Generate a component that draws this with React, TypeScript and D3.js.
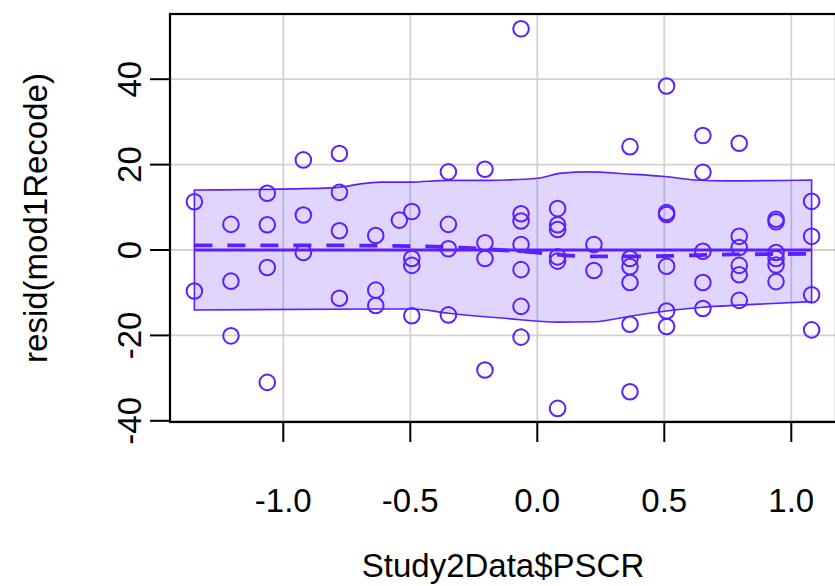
import React from "react";
import * as d3 from "d3";

// ---- data ----
const pscr: number[] = [
  -1.35, -1.35,
  -1.206, -1.206, -1.206,
  -1.063, -1.063, -1.063, -1.063,
  -0.921, -0.921, -0.921,
  -0.779, -0.779, -0.779, -0.779,
  -0.636, -0.636, -0.636,
  -0.543,
  -0.494, -0.494, -0.494, -0.494,
  -0.35, -0.35, -0.35, -0.35,
  -0.206, -0.206, -0.206, -0.206,
  -0.064, -0.064, -0.064, -0.064, -0.064, -0.064, -0.064,
  0.08, 0.08, 0.08, 0.08, 0.08, 0.08,
  0.223, 0.223,
  0.365, 0.365, 0.365, 0.365, 0.365, 0.365,
  0.509, 0.509, 0.509, 0.509, 0.509, 0.509,
  0.652, 0.652, 0.652, 0.652, 0.652,
  0.795, 0.795, 0.795, 0.795, 0.795, 0.795,
  0.94, 0.94, 0.94, 0.94, 0.94, 0.94,
  1.08, 1.08, 1.08, 1.08,
];
const resid: number[] = [
  11.3, -9.6,
  6.0, -7.3, -20.1,
  13.3, 5.9, -4.1, -31.0,
  21.1, 8.2, -0.6,
  22.6, 13.5, 4.5, -11.3,
  3.4, -9.4, -13.0,
  7.0,
  9.0, -2.0, -3.6, -15.4,
  18.3, 6.0, 0.3, -15.2,
  18.9, 1.7, -2.0, -28.1,
  51.8, 8.5, 6.8, 1.3, -4.6, -13.2, -20.4,
  9.7, 5.9, 4.8, -1.6, -2.6, -37.1,
  1.3, -4.8,
  24.2, -2.0, -3.9, -7.6, -17.4, -33.2,
  38.4, 8.3, 8.8, -3.8, -14.3, -17.9,
  26.8, 18.2, -0.3, -7.6, -13.7,
  25.0, 3.2, 0.6, -3.6, -5.8, -11.8,
  7.2, 6.6, -0.6, -2.0, -3.5, -7.4,
  11.4, 3.2, -10.5, -18.7,
];

// smoother (dashed)
const smoothX: number[] = [-1.35, -1.0, -0.6, -0.45, -0.3, -0.15, 0.0, 0.1, 0.25, 0.4, 0.55, 0.7, 0.85, 1.08];
const smoothY: number[] = [1.1, 1.1, 1.0, 0.85, 0.55, 0.0, -0.6, -1.2, -1.5, -1.5, -1.35, -1.1, -1.0, -0.9];

// regression line
const regX: number[] = [-1.35, 1.08];
const regY: number[] = [0, 0];

// spread band
const upperX: number[] = [-1.35, -1.064, -0.797, -0.679, -0.611, -0.501, -0.352, -0.206, -0.127, 0.0, 0.097, 0.2, 0.357, 0.503, 0.621, 0.751, 1.08];
const upperY: number[] = [14.05, 14.2, 14.6, 15.6, 15.9, 15.9, 16.3, 16.3, 16.4, 16.8, 18.0, 18.3, 17.8, 17.2, 16.4, 16.2, 16.4];
const lowerX: number[] = [-1.35, -0.636, -0.493, -0.349, -0.127, 0.08, 0.227, 0.365, 0.509, 0.651, 0.795, 1.08];
const lowerY: number[] = [-14.05, -13.8, -13.8, -14.8, -16.0, -16.9, -16.8, -15.5, -14.3, -13.4, -12.9, -12.1];

const xTicks: number[] = [-1.0, -0.5, 0.0, 0.5, 1.0];
const yTicks: number[] = [-40, -20, 0, 20, 40];
const xTickLabels: string[] = ["-1.0", "-0.5", "0.0", "0.5", "1.0"];
const yTickLabels: string[] = ["-40", "-20", "0", "20", "40"];
const xTitle = "Study2Data$PSCR";
const yTitle = "resid(mod1Recode)";

const W = 835;
const H = 586;
const L = 170, R = 836, T = 14, B = 422;
const COL = "#5a20ff";
const FONT = "'Liberation Sans', Arial, Helvetica, sans-serif";
const FS = 33;

export default function App() {
  const x = d3.scaleLinear().domain([-1.446, 1.176]).range([L, R]);
  const y = d3.scaleLinear().domain([-40.28, 55.27]).range([B, T]);

  const upperPts: [number, number][] = upperX.map((v, i) => [x(v), y(upperY[i])]);
  const lowerPts: [number, number][] = lowerX.map((v, i) => [x(v), y(lowerY[i])]);
  const curve = d3.line<[number, number]>().curve(d3.curveMonotoneX);
  const upperPath = curve(upperPts) || "";
  const lowerRevPath = curve(lowerPts.slice().reverse()) || "";
  const bandPath = upperPath + "L" + lowerRevPath.slice(1) + "Z";

  const smoothPath = d3.line<number>()
    .x((d, i) => x(smoothX[i]))
    .y((d) => y(d))
    .curve(d3.curveMonotoneX)(smoothY) || "";
  const regPath = d3.line<number>()
    .x((d, i) => x(regX[i]))
    .y((d) => y(d))(regY) || "";

  return (
    <svg width={W} height={H} style={{ position: "absolute", left: 0, top: 0 }} fontFamily={FONT}>
      <rect x={0} y={0} width={W} height={H} fill="#fff" />
      {/* grid */}
      {xTicks.map((t) => (
        <line key={"gx" + t} x1={x(t)} x2={x(t)} y1={T} y2={B} stroke="#d2d2d2" strokeWidth={1.8} />
      ))}
      {yTicks.map((t) => (
        <line key={"gy" + t} x1={L} x2={R} y1={y(t)} y2={y(t)} stroke="#d2d2d2" strokeWidth={1.8} />
      ))}
      {/* band */}
      <path d={bandPath} fill={COL} fillOpacity={0.19} stroke={COL} strokeWidth={1.6} />
      {/* points */}
      {pscr.map((v, i) => (
        <circle key={"p" + i} cx={x(v)} cy={y(resid[i])} r={7.8} fill="none" stroke={COL} strokeWidth={2} />
      ))}
      {/* regression line */}
      <path d={regPath} fill="none" stroke={COL} strokeWidth={3} />
      {/* smoother */}
      <path d={smoothPath} fill="none" stroke={COL} strokeWidth={3.8} strokeDasharray="18,15" />
      {/* box */}
      <rect x={L} y={T} width={R - L} height={B - T} fill="none" stroke="#000" strokeWidth={2.2} />
      {/* x axis */}
      {xTicks.map((t, i) => (
        <g key={"xt" + t}>
          <line x1={x(t)} x2={x(t)} y1={B} y2={B + 20} stroke="#000" strokeWidth={2} />
          <text x={x(t)} y={512} textAnchor="middle" fontSize={FS} fill="#000">
            {xTickLabels[i]}
          </text>
        </g>
      ))}
      {/* y axis */}
      {yTicks.map((t, i) => (
        <g key={"yt" + t}>
          <line x1={L - 20} x2={L} y1={y(t)} y2={y(t)} stroke="#000" strokeWidth={2} />
          <text
            transform={`translate(141,${y(t)}) rotate(-90)`}
            textAnchor="middle"
            fontSize={FS}
            fill="#000"
          >
            {yTickLabels[i]}
          </text>
        </g>
      ))}
      <text x={(L + R) / 2} y={577} textAnchor="middle" fontSize={FS} fill="#000">
        {xTitle}
      </text>
      <text transform={`translate(47,${(T + B) / 2}) rotate(-90)`} textAnchor="middle" fontSize={FS} fill="#000">
        {yTitle}
      </text>
    </svg>
  );
}
